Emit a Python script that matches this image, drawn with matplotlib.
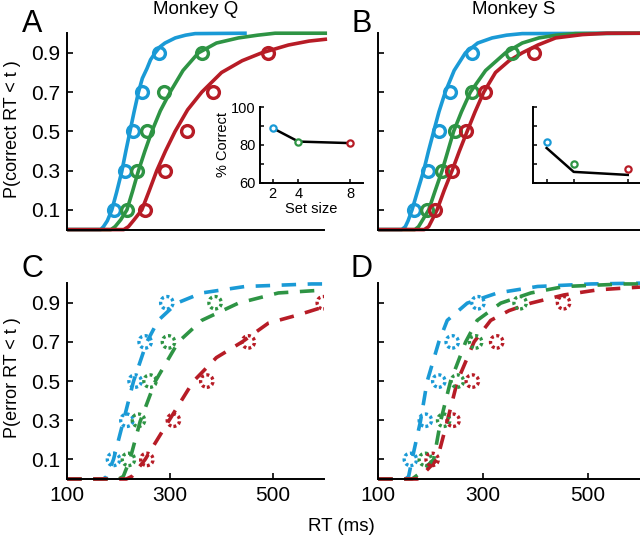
import matplotlib
matplotlib.use("Agg")
import matplotlib.pyplot as plt

plt.rcParams['font.family'] = ['Liberation Sans', 'DejaVu Sans']

# colours for set size 2, 4, 8
cols = ['#1a9ad6', '#2e9444', '#b71c26']
quant = [0.1, 0.3, 0.5, 0.7, 0.9]

# ---- Monkey Q, correct trials (panel A) ----
qc_dots = [[190, 212.6, 228.8, 245, 278.6],
           [216, 235, 254.8, 289, 361.5],
           [251.5, 290, 332.4, 384, 491]]
qc_fit_rt = [[100, 165, 170.5, 178, 186.7, 196, 206, 214, 222, 230, 238.5, 246, 255, 262, 271, 280, 290, 310, 330, 348.6, 449],
             [100, 185, 193, 204, 216, 227, 238.5, 251, 264.5, 281, 300, 325, 355, 390, 432.7, 470, 504, 605],
             [100, 210, 219, 230, 245, 259, 274, 291, 309.7, 334, 361.5, 400, 440, 478, 530, 570, 605]]
qc_fit_p = [[0, 0, 0.015, 0.045, 0.1, 0.19, 0.295, 0.4, 0.5, 0.6, 0.7, 0.77, 0.82, 0.865, 0.9, 0.93, 0.95, 0.976, 0.99, 0.998, 1.0],
            [0, 0, 0.015, 0.05, 0.1, 0.195, 0.3, 0.4, 0.5, 0.605, 0.7, 0.81, 0.9, 0.95, 0.976, 0.99, 1.0, 1.0],
            [0, 0, 0.015, 0.05, 0.1, 0.195, 0.3, 0.4, 0.5, 0.61, 0.7, 0.8, 0.86, 0.9, 0.94, 0.96, 0.97]]

# ---- Monkey S, correct trials (panel B) ----
sc_dots = [[167.6, 195, 215.5, 237.8, 279],
           [193, 222, 246, 279, 354.6],
           [207.8, 241, 268, 303.5, 397]]
sc_fit_rt = [[100, 145, 151.7, 157, 164.5, 175, 186.8, 196, 205.9, 216, 228, 245, 266.5, 290, 317.6, 345, 375, 600],
             [100, 170, 177, 185, 196.3, 209, 222, 233, 244, 259, 276, 305, 343, 375, 406.8, 440, 477, 600],
             [100, 188, 196.3, 203, 212.3, 226, 241, 255, 269.8, 285, 301.6, 324, 350, 375, 405, 438.8, 490, 537, 600]]
sc_fit_p = [[0, 0, 0.015, 0.045, 0.1, 0.195, 0.3, 0.4, 0.5, 0.6, 0.7, 0.81, 0.9, 0.95, 0.976, 0.99, 0.998, 1.0],
            [0, 0, 0.015, 0.05, 0.1, 0.2, 0.3, 0.4, 0.5, 0.6, 0.7, 0.81, 0.9, 0.95, 0.976, 0.99, 0.998, 1.0],
            [0, 0, 0.015, 0.05, 0.1, 0.2, 0.3, 0.4, 0.5, 0.6, 0.7, 0.8, 0.86, 0.9, 0.94, 0.976, 0.993, 1.0, 1.0]]

# ---- Monkey Q, error trials (panel C) ----
qe_dots = [[190, 216, 232, 251.5, 293.6],
           [219, 238.5, 261, 296.8, 387.4],
           [254.8, 306.4, 371.3, 452, 597.7]]
qe_fit_rt = [[100, 170, 177, 190, 209, 228.8, 254.8, 277, 313, 361.5, 445.7, 575, 600],
             [100, 200, 209, 222, 241.8, 271, 316, 361.5, 432.7, 510.4, 581.6, 600],
             [100, 215, 225.6, 251.5, 296.8, 345, 390, 440, 491, 549, 600]]
qe_fit_p = [[0, 0, 0.013, 0.1, 0.294, 0.498, 0.7, 0.81, 0.898, 0.95, 0.983, 0.996, 0.996],
            [0, 0, 0.013, 0.1, 0.294, 0.498, 0.7, 0.81, 0.898, 0.95, 0.962, 0.962],
            [0, 0, 0.013, 0.1, 0.294, 0.498, 0.62, 0.7, 0.796, 0.838, 0.88]]

# ---- Monkey S, error trials (panel D) ----
se_dots = [[161.4, 190, 215.7, 241.3, 290.5],
           [190, 225, 251, 286, 371],
           [203, 243, 279.7, 326.3, 454]]
se_fit_rt = [[100, 152, 158, 164.6, 180.6, 193.4, 215.7, 231.8, 270, 327.7, 404.4, 506.6, 600],
             [100, 164.6, 180, 206, 219, 238, 267, 289, 334, 391.5, 455.4, 570.5, 600],
             [100, 175, 183.8, 212.6, 231.8, 251, 283, 314.8, 350, 391.5, 455, 519.5, 600]]
se_fit_p = [[0, 0, 0.013, 0.1, 0.294, 0.498, 0.7, 0.81, 0.898, 0.95, 0.983, 0.996, 1.0],
            [0, 0, 0.03, 0.1, 0.294, 0.498, 0.7, 0.81, 0.898, 0.95, 0.983, 0.996, 0.996],
            [0, 0, 0.02, 0.1, 0.294, 0.498, 0.7, 0.81, 0.86, 0.898, 0.94, 0.966, 0.98]]

# ---- insets: % correct vs set size ----
set_size = [2, 4, 8]
pc_q = [88.9, 81.5, 81.2]
pc_q_fit = [88.9, 81.8, 81.0]
pc_s = [81.6, 70, 67.4]
pc_s_fit = [78.4, 65.8, 64.2]

fig = plt.figure(figsize=(6.4, 5.41), dpi=100)
axA = fig.add_axes([0.105, 0.5756, 0.402, 0.363])
axB = fig.add_axes([0.591, 0.5756, 0.409, 0.363])
axC = fig.add_axes([0.105, 0.1146, 0.402, 0.362])
axD = fig.add_axes([0.591, 0.1146, 0.409, 0.362])


def style_main(ax, ylabels, xlabels):
    for s in ['top', 'right']:
        ax.spines[s].set_visible(False)
    for s in ['left', 'bottom']:
        ax.spines[s].set_linewidth(1.4)
    ax.set_xlim(100, 600)
    ax.set_ylim(0, 1)
    ax.set_yticks(quant)
    if ylabels:
        ax.set_yticklabels(['0.1', '0.3', '0.5', '0.7', '0.9'])
    else:
        ax.set_yticklabels([])
    if xlabels:
        ax.set_xticks([100, 300, 500])
    else:
        ax.set_xticks([])
    ax.tick_params(direction='in', length=4, width=1.2, labelsize=15, pad=5)
    ax.patch.set_alpha(0)


# solid panels
for ax, fr, fp, dots in [(axA, qc_fit_rt, qc_fit_p, qc_dots), (axB, sc_fit_rt, sc_fit_p, sc_dots)]:
    for i in range(3):
        ax.plot(fr[i], fp[i], color=cols[i], lw=2.6, solid_capstyle='butt', solid_joinstyle='round',
                clip_on=False, zorder=2)
        ax.plot(dots[i], quant, 'o', ms=8.5, mfc='none', mec=cols[i], mew=2.4, zorder=3)

# dashed panels
for ax, fr, fp, dots in [(axC, qe_fit_rt, qe_fit_p, qe_dots), (axD, se_fit_rt, se_fit_p, se_dots)]:
    for i in range(3):
        ax.plot(fr[i], fp[i], color=cols[i], lw=2.6, ls=(0, (4, 3.2)), dash_capstyle='butt',
                clip_on=False, zorder=2)
        ax.scatter(dots[i], quant, s=80, facecolors='none', edgecolors=cols[i], linewidths=2.4,
                   linestyles=[(0, (0.9, 0.8))], zorder=3)

style_main(axA, True, False)
style_main(axB, False, False)
style_main(axC, True, True)
style_main(axD, False, True)

fig.text(0.019, 0.762, 'P(correct RT < t )', fontsize=13, rotation=90, ha='center', va='center')
fig.text(0.019, 0.302, 'P(error RT < t )', fontsize=13, rotation=90, ha='center', va='center')

fig.text(0.305, 0.982, 'Monkey Q', fontsize=13.5, ha='center', va='center')
fig.text(0.802, 0.982, 'Monkey S', fontsize=13.5, ha='center', va='center')
fig.text(0.533, 0.026, 'RT (ms)', fontsize=13.5, ha='center', va='center')

for lab, x, y in [('A', 0.05, 0.955), ('B', 0.565, 0.955), ('C', 0.05, 0.502), ('D', 0.565, 0.502)]:
    fig.text(x, y, lab, fontsize=22, ha='center', va='center')

# insets
insA = fig.add_axes([0.406, 0.662, 0.161, 0.140])
insB = fig.add_axes([0.833, 0.662, 0.169, 0.140])
for ins, pc, fit in [(insA, pc_q, pc_q_fit), (insB, pc_s, pc_s_fit)]:
    ins.plot(set_size, fit, color='black', lw=1.8, zorder=2)
    for i in range(3):
        ins.plot(set_size[i], pc[i], 'o', ms=4.5, mfc='white', mec=cols[i], mew=1.6, zorder=3)
    ins.set_xlim(1, 9)
    ins.set_ylim(60, 100)
    ins.set_xticks(set_size)
    ins.set_yticks([60, 70, 80, 90, 100])
    for s in ['top', 'right']:
        ins.spines[s].set_visible(False)
    for s in ['left', 'bottom']:
        ins.spines[s].set_linewidth(1.4)
    ins.tick_params(direction='in', length=3, width=1.1, labelsize=10.5, pad=3)
    ins.patch.set_alpha(0)

insA.set_yticklabels(['60', '', '80', '', '100'])
insA.set_xticklabels(['2', '4', '8'])
insA.set_ylabel('% Correct', fontsize=10.5, labelpad=1)
insA.set_xlabel('Set size', fontsize=10.5, labelpad=1)
insB.set_xticklabels([])
insB.set_yticklabels([])

fig.savefig('out.png', dpi=100)
